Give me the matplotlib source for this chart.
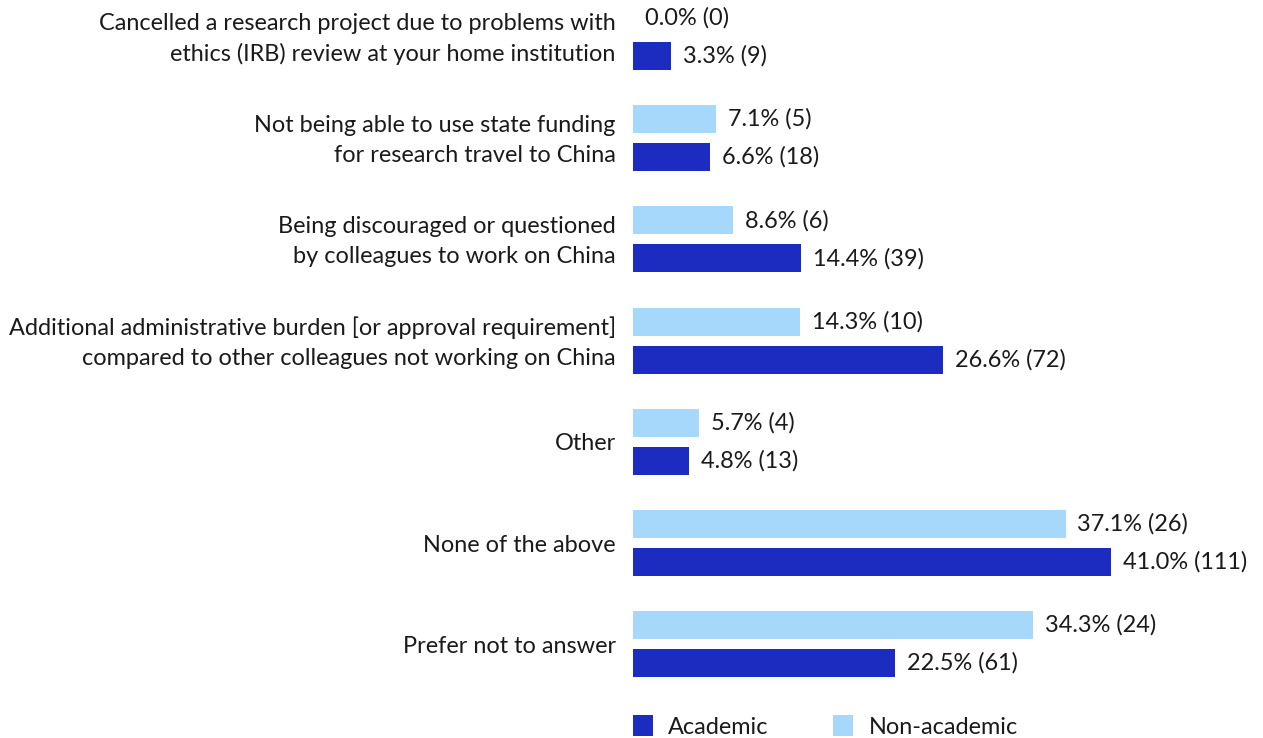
import matplotlib
matplotlib.use("Agg")
import matplotlib.pyplot as plt
from matplotlib.patches import Patch
import numpy as np

categories = [
    "Cancelled a research project due to problems with\nethics (IRB) review at your home institution",
    "Not being able to use state funding\nfor research travel to China",
    "Being discouraged or questioned\nby colleagues to work on China",
    "Additional administrative burden [or approval requirement]\ncompared to other colleagues not working on China",
    "Other",
    "None of the above",
    "Prefer not to answer",
]
academic_pct = [3.3, 6.6, 14.4, 26.6, 4.8, 41.0, 22.5]
academic_n = [9, 18, 39, 72, 13, 111, 61]
nonacademic_pct = [0.0, 7.1, 8.6, 14.3, 5.7, 37.1, 34.3]
nonacademic_n = [0, 5, 6, 10, 4, 26, 24]

ACADEMIC = "#1c2bc0"
NONACADEMIC = "#a5d8fb"

plt.rcParams["font.family"] = ["Lato", "DejaVu Sans"]
FS = 16.9

fig = plt.figure(figsize=(12.63, 7.38), dpi=100)
ax = fig.add_axes([633 / 1263, 0, 1 - 633 / 1263, 1])

y = np.arange(len(categories))
off = 0.188
h = 0.277

ax.barh(y - off, nonacademic_pct, height=h, color=NONACADEMIC)
ax.barh(y + off, academic_pct, height=h, color=ACADEMIC)

for yi, v, n in zip(y, nonacademic_pct, nonacademic_n):
    ax.annotate(f"{v:.1f}% ({n})", (v, yi - off), xytext=(8.5, 0), textcoords="offset points",
                va="center", ha="left", fontsize=FS, color="#1a1a1a")
for yi, v, n in zip(y, academic_pct, academic_n):
    ax.annotate(f"{v:.1f}% ({n})", (v, yi + off), xytext=(8.5, 0), textcoords="offset points",
                va="center", ha="left", fontsize=FS, color="#1a1a1a")

for yi, cat in zip(y, categories):
    ax.annotate(cat, (0, yi), xytext=(-12.5, -1.5), textcoords="offset points",
                va="center", ha="right", fontsize=FS, color="#1a1a1a", linespacing=1.5)

ax.set_xlim(0, (1263 - 633) / 11.66)
ax.set_ylim(6.927, -0.366)
ax.axis("off")

handles = [Patch(facecolor=ACADEMIC, label="Academic"),
           Patch(facecolor=NONACADEMIC, label="Non-academic")]
fig.legend(handles=handles, loc="lower left", bbox_to_anchor=(612 / 1263, -0.028), ncol=2,
           frameon=False, fontsize=FS, handlelength=0.85, handleheight=0.95,
           handletextpad=0.65, columnspacing=2.75, labelcolor="#1a1a1a")

fig.savefig("out.png", dpi=100)
